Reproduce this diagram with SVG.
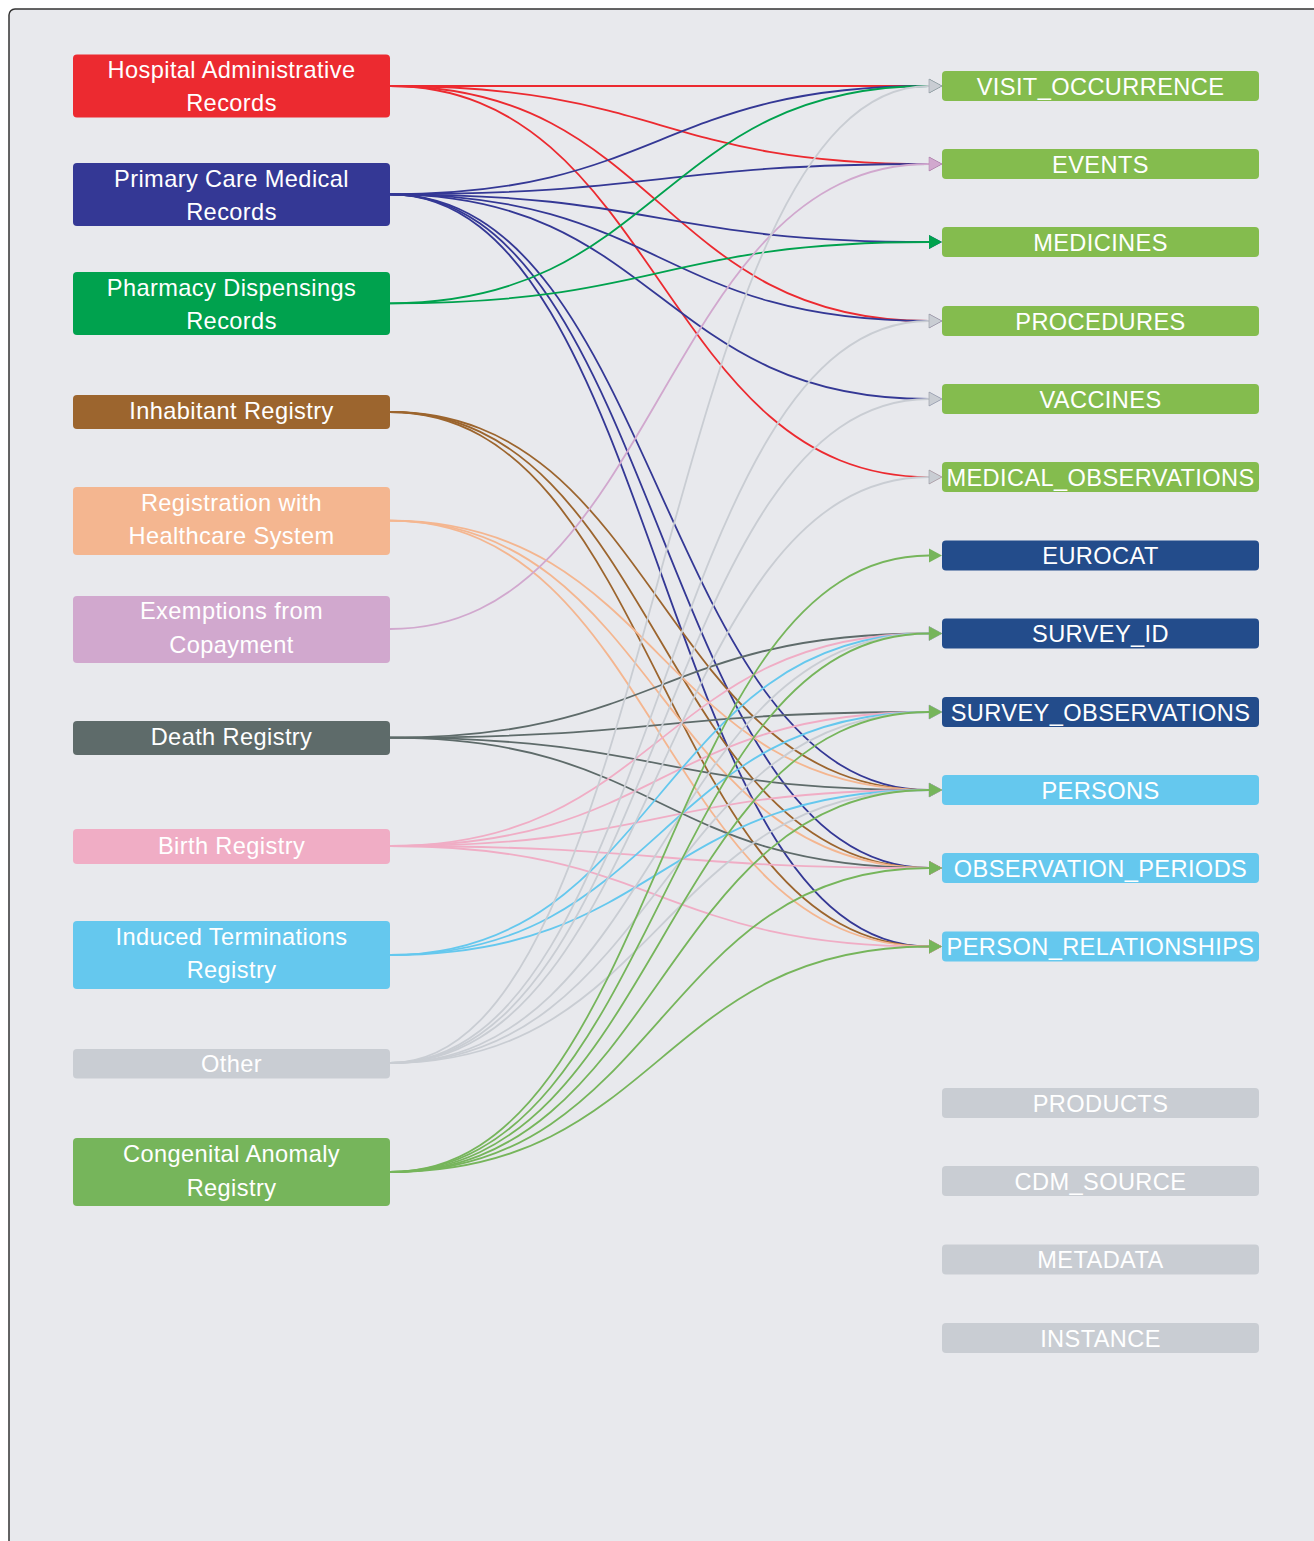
<svg xmlns="http://www.w3.org/2000/svg" width="1314" height="1541" viewBox="0 0 1314 1541">
<style>
text{font-family:"Liberation Sans",Arial,Helvetica,sans-serif;font-size:23.6px;letter-spacing:0.4px;fill:#ffffff;text-anchor:middle}
.e{fill:none;stroke-width:1.8}
.red{stroke:#EC2A30;marker-end:url(#a-red)}
.blu{stroke:#343895;marker-end:url(#a-blu)}
.grn{stroke:#00A24E;marker-end:url(#a-grn)}
.brn{stroke:#9C652E;marker-end:url(#a-brn)}
.pch{stroke:#F4B690;marker-end:url(#a-pch)}
.lil{stroke:#D1A8CE;marker-end:url(#a-lil)}
.dth{stroke:#5E6B6A;marker-end:url(#a-dth)}
.pnk{stroke:#F0ADC5;marker-end:url(#a-pnk)}
.lbl{stroke:#65C8EE;marker-end:url(#a-lbl)}
.gry{stroke:#C9CDD3;marker-end:url(#a-gry)}
.cng{stroke:#76B55B;marker-end:url(#a-cng)}
</style>
<defs>
<marker id="a-red" markerUnits="userSpaceOnUse" markerWidth="14" markerHeight="16" refX="0" refY="7" orient="auto" overflow="visible"><path d="M0,0 L13,7 L0,14 Z" fill="#EC2A30"/></marker>
<marker id="a-blu" markerUnits="userSpaceOnUse" markerWidth="14" markerHeight="16" refX="0" refY="7" orient="auto" overflow="visible"><path d="M0,0 L13,7 L0,14 Z" fill="#343895"/></marker>
<marker id="a-grn" markerUnits="userSpaceOnUse" markerWidth="14" markerHeight="16" refX="0" refY="7" orient="auto" overflow="visible"><path d="M0,0 L13,7 L0,14 Z" fill="#00A24E"/></marker>
<marker id="a-brn" markerUnits="userSpaceOnUse" markerWidth="14" markerHeight="16" refX="0" refY="7" orient="auto" overflow="visible"><path d="M0,0 L13,7 L0,14 Z" fill="#9C652E"/></marker>
<marker id="a-pch" markerUnits="userSpaceOnUse" markerWidth="14" markerHeight="16" refX="0" refY="7" orient="auto" overflow="visible"><path d="M0,0 L13,7 L0,14 Z" fill="#F4B690"/></marker>
<marker id="a-lil" markerUnits="userSpaceOnUse" markerWidth="14" markerHeight="16" refX="0" refY="7" orient="auto" overflow="visible"><path d="M0,0 L13,7 L0,14 Z" fill="#D1A8CE" stroke="#B98FB6" stroke-width="0.6"/></marker>
<marker id="a-dth" markerUnits="userSpaceOnUse" markerWidth="14" markerHeight="16" refX="0" refY="7" orient="auto" overflow="visible"><path d="M0,0 L13,7 L0,14 Z" fill="#5E6B6A"/></marker>
<marker id="a-pnk" markerUnits="userSpaceOnUse" markerWidth="14" markerHeight="16" refX="0" refY="7" orient="auto" overflow="visible"><path d="M0,0 L13,7 L0,14 Z" fill="#F0ADC5"/></marker>
<marker id="a-lbl" markerUnits="userSpaceOnUse" markerWidth="14" markerHeight="16" refX="0" refY="7" orient="auto" overflow="visible"><path d="M0,0 L13,7 L0,14 Z" fill="#65C8EE"/></marker>
<marker id="a-gry" markerUnits="userSpaceOnUse" markerWidth="14" markerHeight="16" refX="0" refY="7" orient="auto" overflow="visible"><path d="M0,0 L13,7 L0,14 Z" fill="#C9CDD3" stroke="#9EA3AD" stroke-width="0.7"/></marker>
<marker id="a-cng" markerUnits="userSpaceOnUse" markerWidth="14" markerHeight="16" refX="0" refY="7" orient="auto" overflow="visible"><path d="M0,0 L13,7 L0,14 Z" fill="#76B55B"/></marker>
</defs>
<rect width="1314" height="1541" fill="#ffffff"/>
<rect x="9" y="9" width="1330" height="1560" rx="6" fill="#E8E9ED" stroke="#333333" stroke-width="1.5"/>

<g id="connectors">
<!-- Hospital Administrative Records -->
<path class="e red" d="M390,86 C660,86 660,86 929,86"/>
<path class="e red" d="M390,86 C660,86 660,164 929,164"/>
<path class="e red" d="M390,86 C660,86 660,321 929,321"/>
<path class="e red" d="M390,86 C660,86 660,477 929,477"/>
<!-- Primary Care Medical Records -->
<path class="e blu" d="M390,194.3 C660,194.3 660,86 929,86"/>
<path class="e blu" d="M390,194.3 C660,194.3 660,164 929,164"/>
<path class="e blu" d="M390,194.3 C660,194.3 660,242 929,242"/>
<path class="e blu" d="M390,194.3 C660,194.3 660,321 929,321"/>
<path class="e blu" d="M390,194.3 C660,194.3 660,399 929,399"/>
<path class="e blu" d="M390,194.3 C660,194.3 660,790 929,790"/>
<path class="e blu" d="M390,194.3 C660,194.3 660,868 929,868"/>
<path class="e blu" d="M390,194.3 C660,194.3 660,946.5 929,946.5"/>
<!-- Pharmacy Dispensings Records -->
<path class="e grn" d="M390,303.3 C660,303.3 660,86 929,86"/>
<path class="e grn" d="M390,303.3 C660,303.3 660,242 929,242"/>
<!-- Inhabitant Registry -->
<path class="e brn" d="M390,412 C660,412 660,790 929,790"/>
<path class="e brn" d="M390,412 C660,412 660,868 929,868"/>
<path class="e brn" d="M390,412 C660,412 660,946.5 929,946.5"/>
<!-- Registration with Healthcare System -->
<path class="e pch" d="M390,520.7 C660,520.7 660,790 929,790"/>
<path class="e pch" d="M390,520.7 C660,520.7 660,868 929,868"/>
<path class="e pch" d="M390,520.7 C660,520.7 660,946.5 929,946.5"/>
<!-- Exemptions from Copayment -->
<path class="e lil" d="M390,629 C660,629 660,164 929,164"/>
<!-- Death Registry -->
<path class="e dth" d="M390,737.7 C660,737.7 660,633.5 929,633.5"/>
<path class="e dth" d="M390,737.7 C660,737.7 660,712 929,712"/>
<path class="e dth" d="M390,737.7 C660,737.7 660,790 929,790"/>
<path class="e dth" d="M390,737.7 C660,737.7 660,868 929,868"/>
<!-- Birth Registry -->
<path class="e pnk" d="M390,846 C660,846 660,633.5 929,633.5"/>
<path class="e pnk" d="M390,846 C660,846 660,712 929,712"/>
<path class="e pnk" d="M390,846 C660,846 660,790 929,790"/>
<path class="e pnk" d="M390,846 C660,846 660,868 929,868"/>
<path class="e pnk" d="M390,846 C660,846 660,946.5 929,946.5"/>
<!-- Induced Terminations Registry -->
<path class="e lbl" d="M390,955 C660,955 660,633.5 929,633.5"/>
<path class="e lbl" d="M390,955 C660,955 660,712 929,712"/>
<path class="e lbl" d="M390,955 C660,955 660,790 929,790"/>
<!-- Other -->
<path class="e gry" d="M390,1063 C660,1063 660,86 929,86"/>
<path class="e gry" d="M390,1063 C660,1063 660,321 929,321"/>
<path class="e gry" d="M390,1063 C660,1063 660,399 929,399"/>
<path class="e gry" d="M390,1063 C660,1063 660,477 929,477"/>
<path class="e gry" d="M390,1063 C660,1063 660,633.5 929,633.5"/>
<path class="e gry" d="M390,1063 C660,1063 660,712 929,712"/>
<path class="e gry" d="M390,1063 C660,1063 660,790 929,790"/>
<!-- Congenital Anomaly Registry -->
<path class="e cng" d="M390,1172 C660,1172 660,555.5 929,555.5"/>
<path class="e cng" d="M390,1172 C660,1172 660,633.5 929,633.5"/>
<path class="e cng" d="M390,1172 C660,1172 660,712 929,712"/>
<path class="e cng" d="M390,1172 C660,1172 660,790 929,790"/>
<path class="e cng" d="M390,1172 C660,1172 660,868 929,868"/>
<path class="e cng" d="M390,1172 C660,1172 660,946.5 929,946.5"/>
</g>

<!-- Source nodes -->
<g id="src-hospital"><rect x="73" y="54.5" width="317" height="63" rx="4" fill="#EC2A30"/><text x="231.5" y="78">Hospital Administrative</text><text x="231.5" y="111">Records</text></g>
<g id="src-primary"><rect x="73" y="163" width="317" height="63" rx="4" fill="#343895"/><text x="231.5" y="187">Primary Care Medical</text><text x="231.5" y="220">Records</text></g>
<g id="src-pharmacy"><rect x="73" y="272" width="317" height="63" rx="4" fill="#00A24E"/><text x="231.5" y="296">Pharmacy Dispensings</text><text x="231.5" y="329">Records</text></g>
<g id="src-inhabitant"><rect x="73" y="395" width="317" height="34" rx="4" fill="#9C652E"/><text x="231.5" y="419">Inhabitant Registry</text></g>
<g id="src-registration"><rect x="73" y="487" width="317" height="68" rx="4" fill="#F4B690"/><text x="231.5" y="510.5">Registration with</text><text x="231.5" y="544">Healthcare System</text></g>
<g id="src-exemptions"><rect x="73" y="596" width="317" height="67" rx="4" fill="#D1A8CE"/><text x="231.5" y="619">Exemptions from</text><text x="231.5" y="652.5">Copayment</text></g>
<g id="src-death"><rect x="73" y="721" width="317" height="34" rx="4" fill="#5E6B6A"/><text x="231.5" y="745">Death Registry</text></g>
<g id="src-birth"><rect x="73" y="829" width="317" height="35" rx="4" fill="#F0ADC5"/><text x="231.5" y="853.5">Birth Registry</text></g>
<g id="src-induced"><rect x="73" y="921" width="317" height="68" rx="4" fill="#65C8EE"/><text x="231.5" y="944.5">Induced Terminations</text><text x="231.5" y="978">Registry</text></g>
<g id="src-other"><rect x="73" y="1049" width="317" height="29.5" rx="4" fill="#C9CDD3"/><text x="231.5" y="1071.5">Other</text></g>
<g id="src-congenital"><rect x="73" y="1138" width="317" height="68" rx="4" fill="#76B55B"/><text x="231.5" y="1162">Congenital Anomaly</text><text x="231.5" y="1195.5">Registry</text></g>

<!-- Target nodes -->
<g id="tgt-visit"><rect x="942" y="71" width="317" height="30" rx="4" fill="#84BC4E"/><text x="1100.5" y="94.5">VISIT_OCCURRENCE</text></g>
<g id="tgt-events"><rect x="942" y="149" width="317" height="30" rx="4" fill="#84BC4E"/><text x="1100.5" y="172.5">EVENTS</text></g>
<g id="tgt-medicines"><rect x="942" y="227" width="317" height="30" rx="4" fill="#84BC4E"/><text x="1100.5" y="250.5">MEDICINES</text></g>
<g id="tgt-procedures"><rect x="942" y="306" width="317" height="30" rx="4" fill="#84BC4E"/><text x="1100.5" y="329.5">PROCEDURES</text></g>
<g id="tgt-vaccines"><rect x="942" y="384" width="317" height="30" rx="4" fill="#84BC4E"/><text x="1100.5" y="407.5">VACCINES</text></g>
<g id="tgt-medobs"><rect x="942" y="462" width="317" height="30" rx="4" fill="#84BC4E"/><text x="1100.5" y="485.5">MEDICAL_OBSERVATIONS</text></g>
<g id="tgt-eurocat"><rect x="942" y="540.5" width="317" height="30" rx="4" fill="#234C8B"/><text x="1100.5" y="564">EUROCAT</text></g>
<g id="tgt-surveyid"><rect x="942" y="618.5" width="317" height="30" rx="4" fill="#234C8B"/><text x="1100.5" y="642">SURVEY_ID</text></g>
<g id="tgt-surveyobs"><rect x="942" y="697" width="317" height="30" rx="4" fill="#234C8B"/><text x="1100.5" y="720.5">SURVEY_OBSERVATIONS</text></g>
<g id="tgt-persons"><rect x="942" y="775" width="317" height="30" rx="4" fill="#65C8EE"/><text x="1100.5" y="798.5">PERSONS</text></g>
<g id="tgt-obsperiods"><rect x="942" y="853" width="317" height="30" rx="4" fill="#65C8EE"/><text x="1100.5" y="876.5">OBSERVATION_PERIODS</text></g>
<g id="tgt-personrel"><rect x="942" y="931.5" width="317" height="30" rx="4" fill="#65C8EE"/><text x="1100.5" y="955">PERSON_RELATIONSHIPS</text></g>
<g id="tgt-products"><rect x="942" y="1088" width="317" height="30" rx="4" fill="#C9CDD3"/><text x="1100.5" y="1111.5">PRODUCTS</text></g>
<g id="tgt-cdmsource"><rect x="942" y="1166" width="317" height="30" rx="4" fill="#C9CDD3"/><text x="1100.5" y="1189.5">CDM_SOURCE</text></g>
<g id="tgt-metadata"><rect x="942" y="1244.5" width="317" height="30" rx="4" fill="#C9CDD3"/><text x="1100.5" y="1268">METADATA</text></g>
<g id="tgt-instance"><rect x="942" y="1323" width="317" height="30" rx="4" fill="#C9CDD3"/><text x="1100.5" y="1346.5">INSTANCE</text></g>
</svg>
